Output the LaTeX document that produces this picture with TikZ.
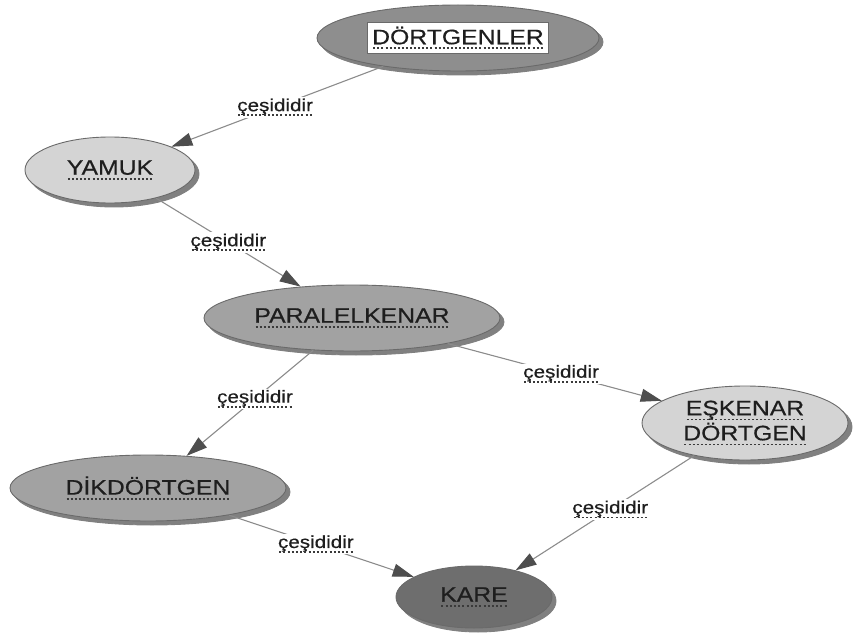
\documentclass[tikz,border=0pt]{standalone}
\usepackage{fontspec}
\setmainfont{Liberation Sans}[FakeStretch=1.18,FakeBold=0.5]
\usetikzlibrary{shapes.geometric,arrows.meta,shadows}

\definecolor{inkc}{HTML}{1E1E1E}
\definecolor{dotc}{HTML}{3A3A3A}
\definecolor{edgec}{HTML}{8C8C8C}
\definecolor{tipc}{HTML}{4E4E4E}
\definecolor{rimc}{HTML}{6A6A6A}
\definecolor{shc}{HTML}{808080}
\definecolor{darkf}{HTML}{8E8E8E}
\definecolor{midf}{HTML}{A2A2A2}
\definecolor{lightf}{HTML}{D4D4D4}
\definecolor{deepf}{HTML}{6E6E6E}

% text with a dotted underline
\newsavebox\dotsbox
\newcommand\dotu[1]{\sbox\dotsbox{#1}\leavevmode\rlap{\usebox\dotsbox}%
  \raisebox{-5pt}{\color{dotc}\hbox to \wd\dotsbox{\xleaders\hbox to 4pt{\hss\rule{2pt}{1.8pt}\hss}\hfill}}}

\tikzset{
  concept/.style={ellipse, draw=rimc, line width=0.9pt, inner sep=0pt,
    text=inkc, font=\fontsize{21}{25}\selectfont, align=center,
    copy shadow={shadow xshift=4pt, shadow yshift=-4pt, fill=shc, draw=shc}},
  conn/.style={draw=edgec, line width=1.1pt,
    -{Triangle[length=21pt,width=13pt,color=tipc,fill=tipc]}},
  lbl/.style={fill=white, inner sep=1.5pt, text=inkc,
    font=\fontsize{17.5}{21}\selectfont}
}

\begin{document}
\begin{tikzpicture}[x=1pt,y=-1pt]
\useasboundingbox (0,0) rectangle (853,639);

\node[concept, fill=darkf, minimum width=282pt, minimum height=66pt] (dort) at (458,38)
  {\setlength\fboxsep{4pt}\setlength\fboxrule{0.8pt}\fcolorbox{rimc}{white}{\dotu{DÖRTGENLER}}};
\node[concept, fill=lightf, minimum width=170pt, minimum height=66pt] (yamuk) at (110,170) {\dotu{YAMUK}};
\node[concept, fill=midf, minimum width=296pt, minimum height=66pt] (para) at (352,318) {\dotu{PARALELKENAR}};
\node[concept, fill=lightf, minimum width=206pt, minimum height=74pt] (eskenar) at (745,423)
  {\dotu{EŞKENAR}\\\dotu{DÖRTGEN}};
\node[concept, fill=midf, minimum width=276pt, minimum height=66pt] (dik) at (148,488) {\dotu{DİKDÖRTGEN}};
\node[concept, fill=deepf, minimum width=156pt, minimum height=62pt] (kare) at (474,597) {\dotu{KARE}};

\draw[conn] (dort) -- node[lbl, pos=0.51] (l1) {\dotu{çeşididir}} (yamuk);
\draw[conn] (yamuk) -- node[lbl, pos=0.5] (l2) {\dotu{çeşididir}} (para);
\draw[conn] (para) -- node[lbl, pos=0.46] (l3) {\dotu{çeşididir}} (dik);
\draw[conn] (para) -- node[lbl, pos=0.53] (l4) {\dotu{çeşididir}} (eskenar);
\draw[conn] (dik) -- node[lbl, pos=0.47] (l5) {\dotu{çeşididir}} (kare);
\draw[conn] (eskenar) -- node[lbl, pos=0.47] (l6) {\dotu{çeşididir}} (kare);
\end{tikzpicture}
\end{document}
